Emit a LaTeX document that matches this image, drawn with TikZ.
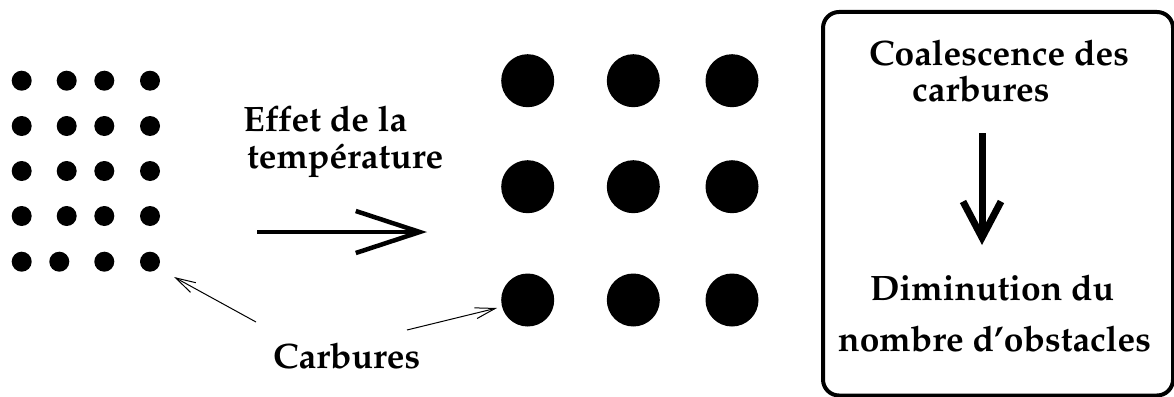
\documentclass[tikz,border=0pt]{standalone}
\usepackage[T1]{fontenc}
\usepackage{mathpazo}
\usetikzlibrary{arrows.meta}
\begin{document}
\begin{tikzpicture}[x=1pt,y=-1pt,
  lbl/.style={anchor=base west,inner sep=0pt,font=\fontsize{35.3}{42}\selectfont\bfseries},
  sdot/.style={circle,fill=black,inner sep=0pt,minimum size=20pt},
  bdot/.style={circle,fill=black,inner sep=0pt,minimum size=53pt},
  ptr/.style={line width=1pt,-{Straight Barb[length=20pt,width=11pt]}},
  bigarrow/.style={line width=4.5pt,-{Straight Barb[length=64pt,width=42pt]}},
  downarrow/.style={line width=7pt,-{Straight Barb[length=36pt,width=38pt]}},
  frame/.style={line width=4pt,rounded corners=16pt}]
\useasboundingbox (0,0) rectangle (1174,396);
% small dots
\foreach \r/\y in {1/80.7,2/126,3/171,4/216}{
  \node[sdot] (s\r1) at (21.7,\y) {};
  \node[sdot] (s\r2) at (66.7,\y) {};
  \node[sdot] (s\r3) at (104.3,\y) {};
  \node[sdot] (s\r4) at (150,\y) {};
}
\node[sdot] (s51) at (21.7,261.7) {};
\node[sdot] (s52) at (59.3,261.7) {};
\node[sdot] (s53) at (104.3,261.7) {};
\node[sdot] (s54) at (150,261.7) {};
% big dots
\foreach \r/\y in {1/80.7,2/186.7,3/300}{
  \node[bdot] (b\r1) at (527.7,\y) {};
  \node[bdot] (b\r2) at (633.3,\y) {};
  \node[bdot] (b\r3) at (732,\y) {};
}
% temperature label and arrow
\node[lbl] (eff1) at (243,131.7) {Effet de la};
\node[lbl] (eff2) at (247,168) {temp\'erature};
\coordinate (ha) at (257,232);
\coordinate (hb) at (427,232);
\draw[bigarrow] (ha) -- (hb);
% carbures label and pointers
\node[lbl] (carb) at (273,368) {Carbures};
\coordinate (c1) at (256,322);
\coordinate (t1) at (174,277);
\coordinate (c2) at (407,330);
\coordinate (t2) at (497,308);
\draw[ptr] (c1) -- (t1);
\draw[ptr] (c2) -- (t2);
% right box
\draw[frame] (823,12) rectangle (1173,395.5);
\node[lbl] (co1) at (869,65) {Coalescence des};
\node[lbl] (co2) at (912,101.7) {carbures};
\node[lbl] (di1) at (870,300) {Diminution du};
\node[lbl] (di2) at (838,351.7) {nombre d'obstacles};
\coordinate (va) at (982,133);
\coordinate (vb) at (982,245);
\draw[downarrow] (va) -- (vb);
\end{tikzpicture}
\end{document}
